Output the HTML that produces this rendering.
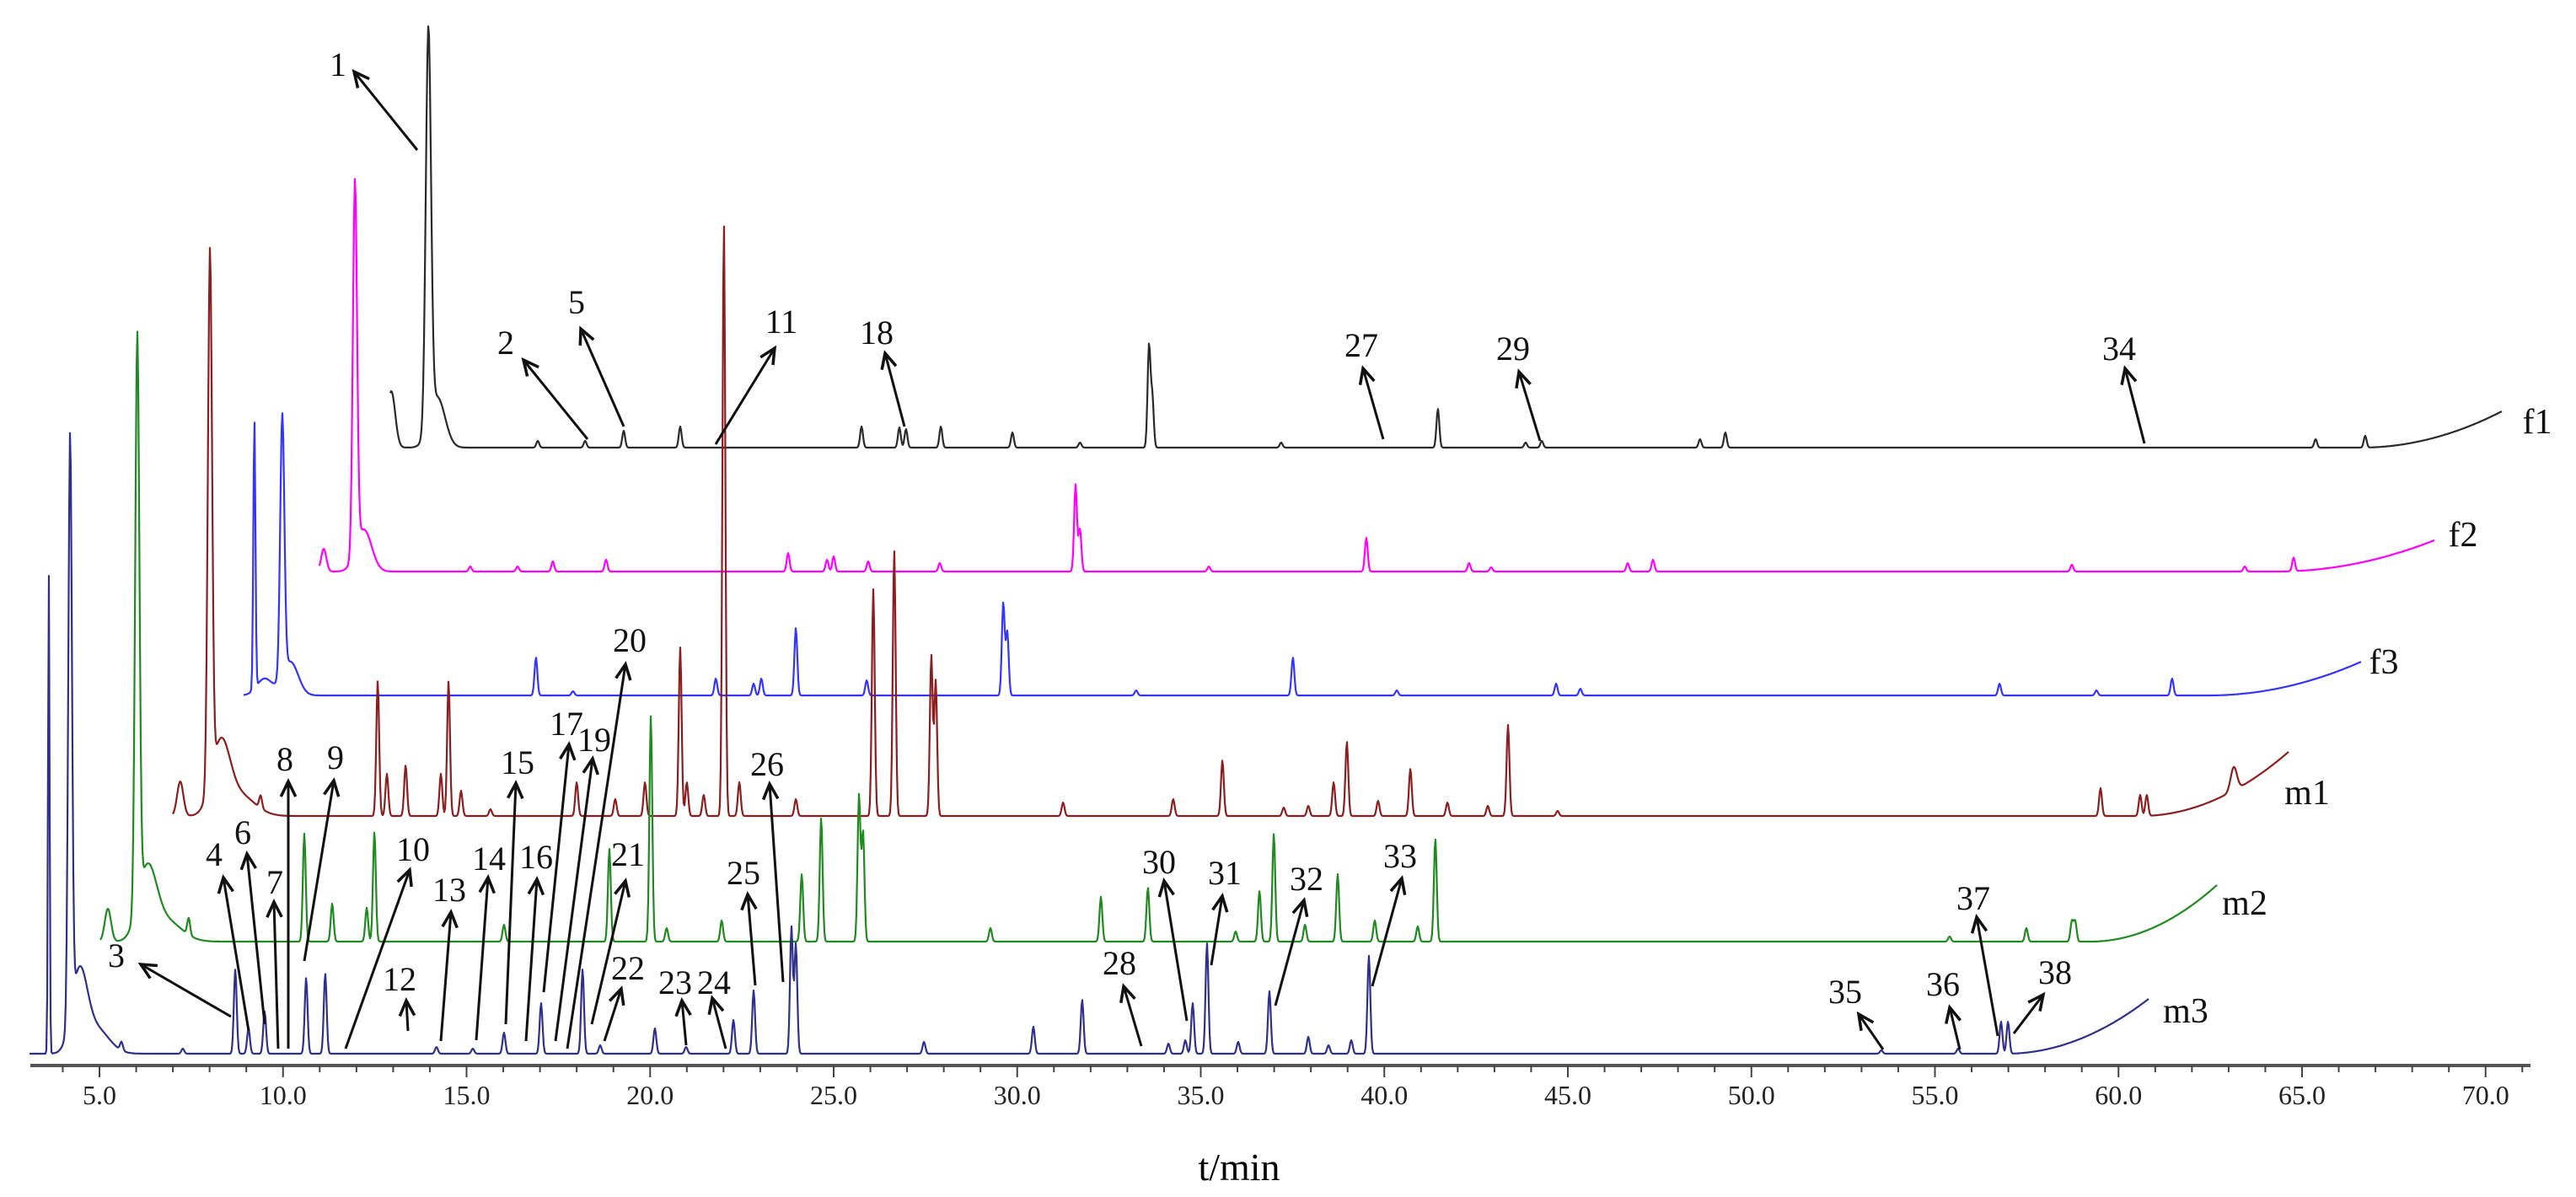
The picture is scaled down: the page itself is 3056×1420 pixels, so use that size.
<!DOCTYPE html>
<html><head><meta charset="utf-8">
<style>
html,body{margin:0;padding:0;background:#fff;}
svg{display:block;}
text{font-family:"Liberation Serif",serif;}
</style></head>
<body>
<svg id="chart" width="3056" height="1420" viewBox="0 0 3056 1420" xmlns="http://www.w3.org/2000/svg">
<g id="axis"></g>
<g id="traces"></g>
<g id="annot"></g>
<text x="1470" y="1400" font-size="46" text-anchor="middle">t/min</text>
</svg>
<script>
// ---- data ----
const tickValues = [5,10,15,20,25,30,35,40,45,50,55,60,65,70];
const tickLabels = ["5.0","10.0","15.0","20.0","25.0","30.0","35.0","40.0","45.0","50.0","55.0","60.0","65.0","70.0"];
const seriesNames = ["f1","f2","f3","m1","m2","m3"];
const seriesColors = ["#2a2a2a","#ff00ff","#3434ff","#8b1e1e","#1f8a1f","#2f2f8c"];
const seriesBaselines = [531,678,825,968,1117,1250];
const seriesStart = [12.92,10.99,8.93,7.00,5.02,3.09];
const seriesEnd = [70.44,68.60,66.61,64.63,62.68,60.82];
const driftStart = [66.6,64.29,62.45,60.6,59.24,56.94];
const driftRise = [43,37,40,76,67,65];
// peaks: [time, height, width(min)]
const peaksF1 = [[12.95,67,0.15],[13.96,470,0.1],[14.2,60,0.3],[16.94,8],[18.23,8],[19.28,20],[20.82,25],[25.76,25],[26.79,24],[26.97,22],[27.92,25],[29.87,18],[31.71,6],[33.59,120],[33.68,60],[37.19,6],[41.46,46],[43.85,6],[44.29,8],[48.60,10],[49.29,18],[65.37,10],[66.72,14]];
const peaksF2 = [[11.11,27,0.1],[11.96,440,0.08],[12.2,50,0.3],[15.10,6],[16.39,6],[17.35,12],[18.80,14],[23.76,22],[24.82,14],[25.00,18],[25.94,12],[27.89,10],[31.59,103],[31.71,50],[35.22,6],[39.51,40],[42.31,10],[42.91,5],[46.63,10],[47.32,14],[58.73,8],[63.44,6],[64.77,16]];
const peaksF3 = [[9.22,320,0.04],[9.5,20,0.3],[9.98,310,0.08],[10.2,40,0.3],[16.89,45],[17.90,5],[21.79,20],[22.82,14],[23.03,20],[23.97,80],[25.90,18],[29.62,110],[29.73,75],[33.24,6],[37.51,45],[40.34,6],[44.68,14],[45.34,8],[56.76,14],[59.40,6],[61.46,20]];
const peaksM1 = [[7.20,41,0.12],[8.01,630,0.08],[8.3,80,0.35],[8.8,25,0.6],[9.39,15],[12.58,160],[12.83,50],[13.34,60],[14.30,50],[14.51,160],[14.85,30],[15.65,8],[18.00,40],[19.05,20],[19.86,40],[20.82,200],[21.00,40],[21.46,25],[22.01,705],[22.43,40],[23.97,20],[26.08,269],[26.65,315],[27.66,190],[27.78,160],[31.25,16],[34.25,20],[35.59,66],[37.26,10],[37.93,12],[38.62,40],[38.98,88],[39.83,18],[40.71,56],[41.72,16],[42.82,12],[43.37,108],[44.72,6],[59.51,33],[60.59,25],[60.77,25],[63.14,28,0.12]];
const peaksM2 = [[5.23,39,0.12],[6.03,675,0.08],[6.3,80,0.35],[6.8,25,0.6],[7.43,20],[10.58,128],[11.34,45],[12.28,40],[12.49,130],[16.02,20],[18.89,110],[20.02,268],[20.45,16],[21.95,25],[24.13,80],[24.66,147],[25.69,173],[25.80,130],[29.27,16],[32.28,53],[33.56,64],[35.95,12],[36.60,60],[36.99,128],[37.84,20],[38.73,80],[39.74,25],[40.91,18],[41.39,122],[55.40,6],[57.49,16],[58.73,24],[58.82,24]];
const peaksM3 = [[3.62,570,0.03],[4.20,690,0.07],[4.45,90,0.3],[4.9,30,0.5],[5.60,10],[7.27,6],[8.70,100],[9.06,30],[9.50,50],[10.63,90],[11.15,95],[14.18,8],[15.17,6],[16.02,25],[17.03,60],[18.16,100],[18.64,10],[20.13,30],[20.98,8],[22.27,40],[22.82,75],[23.85,150],[23.97,130],[27.46,14],[30.44,32],[31.77,64],[34.12,12],[34.58,16],[34.78,60],[35.17,131],[36.02,14],[36.87,74],[37.93,20],[38.48,10],[39.10,16],[39.58,116],[53.54,4],[55.63,6],[56.80,38],[56.99,38]];
const allPeaks = [peaksF1,peaksF2,peaksF3,peaksM1,peaksM2,peaksM3];
// annotations: label, label x,y ; arrow head x,y ; arrow tail x,y
const annLabels = ["1","2","5","11","18","20","8","9","15","17","19","26","4","6","7","10","13","14","16","21","3","12","22","23","24","25","27","29","28","30","31","32","33","34","35","36","37","38"];
const annText = [[401,76],[600,406],[684,358],[927,381],[1040,394],[747,759],[338,900],[398,898],[614,904],[672,858],[705,877],[910,906],[254,1013],[288,987],[326,1046],[490,1007],[533,1055],[580,1018],[636,1016],[745,1013],[138,1133],[474,1161],[745,1148],[801,1165],[847,1165],[882,1035],[1615,409],[1795,413],[1328,1142],[1375,1022],[1453,1035],[1550,1042],[1661,1015],[2514,413],[2189,1176],[2305,1167],[2341,1065],[2438,1153]];
const annHead = [[420,85],[621,427],[689,390],[919,413],[1050,419],[742,788],[342,927],[396,926],[612,929],[675,883],[703,900],[913,930],[265,1041],[293,1013],[325,1070],[486,1032],[535,1082],[579,1041],[637,1043],[742,1045],[167,1144],[482,1187],[737,1173],[809,1187],[845,1184],[887,1061],[1617,437],[1802,441],[1333,1170],[1381,1045],[1450,1063],[1547,1068],[1663,1042],[2521,437],[2205,1203],[2313,1195],[2345,1088],[2424,1180]];
const annTail = [[495,178],[697,521],[740,506],[849,527],[1073,506],[673,1244],[342,1244],[361,1140],[600,1215],[645,1177],[659,1235],[929,1165],[295,1223],[314,1215],[330,1244],[410,1244],[523,1235],[565,1234],[624,1235],[702,1215],[274,1206],[484,1223],[717,1235],[814,1240],[861,1244],[896,1169],[1641,521],[1827,523],[1354,1241],[1408,1211],[1437,1145],[1513,1193],[1628,1170],[2544,526],[2234,1245],[2325,1245],[2370,1229],[2389,1226]];
const seriesLabelPos = [[3010,500],[2922,634],[2828,785],[2737,940],[2663,1071],[2593,1199]];

// ---- scales ----
const NS="http://www.w3.org/2000/svg";
const X0=118, PX=43.55;
function xScale(t){return X0+(t-5)*PX;}
function xInv(x){return 5+(x-X0)/PX;}
function mk(tag,attrs,parent){const e=document.createElementNS(NS,tag);for(const k in attrs)e.setAttribute(k,attrs[k]);parent.appendChild(e);return e;}

// axis
const axis=document.getElementById('axis');
const AY=1264;
const axLine=mk('line',{x1:36,y1:AY,x2:3002,y2:AY,stroke:'#555',"stroke-width":4},axis);


for(let t=3;t<=71;t++){
  const x=xScale(t); if(x<36||x>3002)continue;
  const major=tickValues.indexOf(t)>=0;
  const tk=mk('line',{x1:x,y1:AY,x2:x,y2:AY+(major?14:8),stroke:'#444',"stroke-width":2},axis);
  
  
}
tickValues.forEach((v,i)=>{
  const tx=mk('text',{x:xScale(v),y:1310,"font-size":32,"text-anchor":"middle",fill:'#222'},axis);
  tx.textContent=tickLabels[i];
  
  
});

// traces
const tg=document.getElementById('traces');
allPeaks.forEach((peaks,s)=>{
  const base=seriesBaselines[s];
  const xa=Math.round(xScale(seriesStart[s])), xb=Math.round(xScale(seriesEnd[s]));
  const ds=driftStart[s], de=seriesEnd[s];
  let d='';
  for(let x=xa;x<=xb;x++){
    const t=xInv(x);
    let h=0;
    for(const p of peaks){const w=p[2]||0.055;const z=(t-p[0])/w;if(Math.abs(z)<5)h+=p[1]*Math.exp(-z*z);}
    if(t>ds){const f=(t-ds)/(de-ds);h+=driftRise[s]*f*f;}
    d+=(x===xa?'M':'L')+x+','+(base-h).toFixed(1);
  }
  const p=mk('path',{d:d,fill:'none',stroke:seriesColors[s],"stroke-width":2.2,"stroke-linejoin":"round"},tg);
  
  
  const lb=mk('text',{x:seriesLabelPos[s][0],y:seriesLabelPos[s][1]+14,"font-size":42,"text-anchor":"middle",fill:'#111'},tg);
  lb.textContent=seriesNames[s];
  
  
});

// annotations
const ag=document.getElementById('annot');
annLabels.forEach((lab,i)=>{
  const [hx,hy]=annHead[i],[sx,sy]=annTail[i];
  const g=mk('g',{},ag);
  
  
  mk('line',{x1:sx,y1:sy,x2:hx,y2:hy,stroke:'#111',"stroke-width":3},g);
  const a=Math.atan2(hy-sy,hx-sx), L=20, sp=0.45;
  const p1=[hx-L*Math.cos(a-sp),hy-L*Math.sin(a-sp)], p2=[hx-L*Math.cos(a+sp),hy-L*Math.sin(a+sp)];
  mk('polyline',{points:`${p1[0]},${p1[1]} ${hx},${hy} ${p2[0]},${p2[1]}`,fill:'none',stroke:'#111',"stroke-width":3.5},g);
  const tx=mk('text',{x:annText[i][0],y:annText[i][1]+14,"font-size":40,"text-anchor":"middle",fill:'#111'},g);
  tx.textContent=lab;
});
</script>
</body></html>
